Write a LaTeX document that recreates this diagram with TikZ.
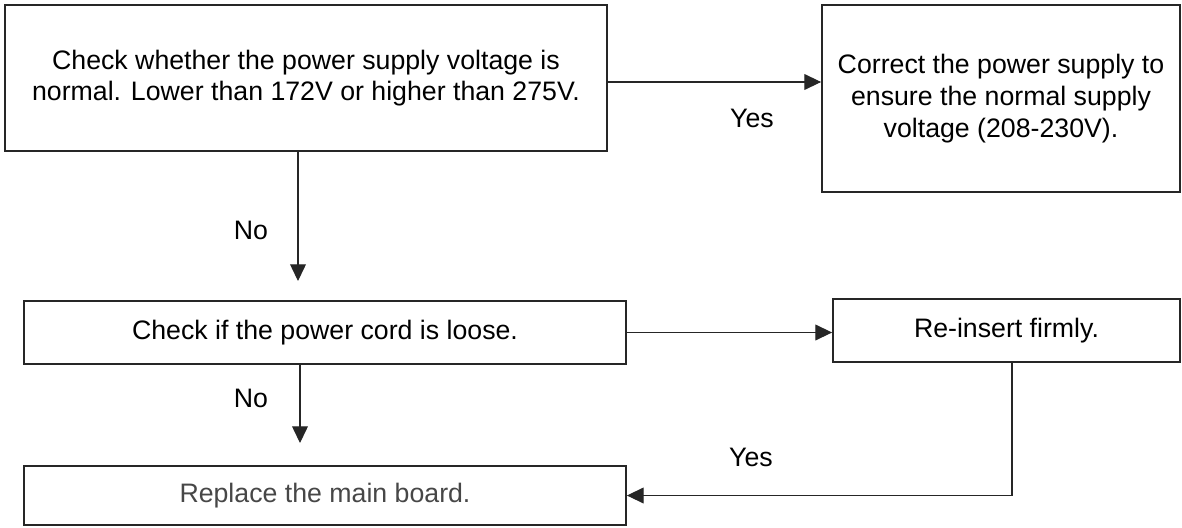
\documentclass[tikz,border=0pt]{standalone}
\usepackage{fontspec}
\setmainfont{Liberation Sans}
\usetikzlibrary{arrows.meta}

\begin{document}
\begin{tikzpicture}[x=0.02cm,y=-0.02cm]
	% styles
	\tikzstyle{box} = [draw=black!85,line width=1.1pt,inner sep=0pt,align=center,
		font=\fontsize{15.2}{18}\selectfont]
	\tikzstyle{arr} = [draw=black!85,line width=0.6pt,-{Triangle[length=9.5pt,width=9pt]}]
	\tikzstyle{lbl} = [font=\fontsize{15.2}{18}\selectfont]
	
	% bounding box
	\useasboundingbox (0,0) rectangle (1182,527);
	
	% boxes
	\node[box,minimum width=12.04cm,minimum height=2.92cm] (chkv) at (306,78)
		{Check whether the power supply voltage is\\normal. Lower than 172V or higher than 275V.};
	\node[box,minimum width=7.16cm,minimum height=3.74cm] (fixv) at (1001,98.5)
		{Correct the power supply to\\ensure the normal supply\\voltage (208-230V).};
	\node[box,minimum width=12.04cm,minimum height=1.26cm] (chkc) at (325,332.5)
		{Check if the power cord is loose.};
	\node[box,minimum width=6.94cm,minimum height=1.26cm] (reins) at (1006.5,330.5)
		{Re-insert firmly.};
	\node[box,minimum width=12.04cm,minimum height=1.18cm,text=black!72] (repl) at (325,495.5)
		{Replace the main board.};
	
	% free arrow ends
	\coordinate (e1) at (298,281);
	\coordinate (e2) at (300,443);
	
	% connectors
	\draw[arr] ([yshift=-0.08cm]chkv.east) -- ([yshift=-0.08cm]chkv.east -| fixv.west);
	\draw[arr] (e1 |- chkv.south) -- (e1);
	\draw[arr] (chkc.east) -- (chkc.east -| reins.west);
	\draw[arr] (e2 |- chkc.south) -- (e2);
	\draw[arr] ([xshift=0.11cm]reins.south) |- (repl.east);
	
	% labels
	\node[lbl] (yes1) at (752,118) {Yes};
	\node[lbl] (no1) at (251,230) {No};
	\node[lbl] (no2) at (251,398) {No};
	\node[lbl] (yes2) at (751,457) {Yes};
\end{tikzpicture}
\end{document}
